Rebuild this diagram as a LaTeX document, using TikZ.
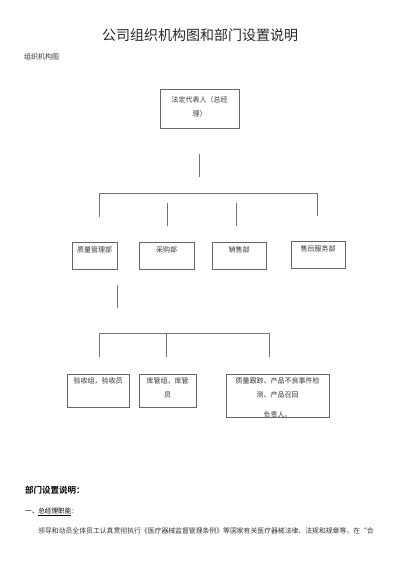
\documentclass[tikz,border=0pt]{standalone}
\usepackage{fontspec}
\newfontfamily\cjk{Noto Sans CJK SC}
\newfontfamily\cjkb{Noto Sans CJK SC Bold}
\begin{document}
\begin{tikzpicture}[x=1pt,y=-1pt,
  box/.style={draw=black!60,line width=0.6pt,inner sep=0pt},
  conn/.style={draw=black!55,line width=0.6pt},
  small/.style={font=\cjk\fontsize{7}{14.5}\selectfont,text=black!80,inner sep=0pt,align=center}]
\useasboundingbox (0,0) rectangle (400,565);
% title
\node[font=\cjk\fontsize{14}{16}\selectfont,text=black!85,inner sep=0pt] (title) at (200,35) {公司组织机构图和部门设置说明};
\node[small,anchor=west] (sub) at (24,57) {组织机构图};
% top box
\node[box,minimum width=79pt,minimum height=39pt] (gm) at (199.5,108.5) {};
\node[small,anchor=north] (gmt) at (199.5,96) {法定代表人（总经\\理）};
% level 1 connectors
\coordinate (a1) at (199,154); \coordinate (a2) at (199,177);
\coordinate (h1) at (99,193); \coordinate (h2) at (317,193);
\coordinate (d1) at (99,217);
\coordinate (s2t) at (167,203); \coordinate (s2b) at (167,226);
\coordinate (s3t) at (236,203); \coordinate (s3b) at (236,226);
\coordinate (d4) at (317,216);
\draw[conn] (a1) -- (a2);
\draw[conn] (d1) -- (h1) -- (h2) -- (d4);
\draw[conn] (s2t) -- (s2b);
\draw[conn] (s3t) -- (s3b);
% level 2 boxes
\node[box,minimum width=45pt,minimum height=27pt] (q) at (94.5,255.5) {};
\node[small,anchor=north] (qt) at (q.north) [yshift=-4.5pt] {质量管理部};
\node[box,minimum width=55pt,minimum height=27pt] (p) at (166.5,255.5) {};
\node[small,anchor=north] (pt) at (p.north) [yshift=-4.5pt] {采购部};
\node[box,minimum width=54pt,minimum height=27pt] (s) at (239,255.5) {};
\node[small,anchor=north] (st) at (s.north) [yshift=-4.5pt] {销售部};
\node[box,minimum width=54pt,minimum height=27pt] (as) at (318,254.5) {};
\node[small,anchor=north] (ast) at (as.north) [yshift=-4.5pt] {售后服务部};
% level 2 connectors
\coordinate (b1) at (117,285); \coordinate (b2) at (117,308);
\coordinate (k1) at (99,333); \coordinate (k2) at (269,333);
\coordinate (e1) at (99,357); \coordinate (e3) at (269,357);
\coordinate (m1) at (166,333); \coordinate (m2) at (166,357);
\draw[conn] (b1) -- (b2);
\draw[conn] (e1) -- (k1) -- (k2) -- (e3);
\draw[conn] (m1) -- (m2);
% level 3 boxes
\node[box,minimum width=62pt,minimum height=33pt] (ys) at (98,390.5) {};
\node[small,anchor=north] (yst) at (ys.north) [yshift=-3.5pt] {验收组，验收员};
\node[box,minimum width=57pt,minimum height=33pt] (kg) at (167.5,390.5) {};
\node[small,anchor=north] (kgt) at (kg.north) [yshift=-3.5pt] {库管组，库管\\员};
\node[box,minimum width=103pt,minimum height=43pt] (zl) at (277.5,395.5) {};
\node[small,anchor=north] (zlt) at (zl.north) [yshift=-3.5pt] {质量跟踪、产品不良事件检\\测、产品召回};
\begin{scope}
\clip (zl.north west) rectangle ([yshift=1pt]zl.south east);
\node[small,anchor=center] (zlt2) at (277.5,414.5) {负责人。};
\end{scope}
% text section
\node[font=\cjkb\fontsize{8.5}{10}\selectfont,anchor=west,inner sep=0pt] (h) at (25,490) {部门设置说明：};
\node[font=\cjk\fontsize{6.6}{8}\selectfont,anchor=west,inner sep=0pt] (h2t) at (25,512) {一、\underline{总经理职能}：};
\node[font=\cjk\fontsize{6.85}{8}\selectfont,anchor=west,inner sep=0pt,text=black!80] (body) at (38,531) {领导和动员全体员工认真贯彻执行《医疗器械监督管理条例》等国家有关医疗器械法律、法规和规章等，在“合};
\end{tikzpicture}
\end{document}
